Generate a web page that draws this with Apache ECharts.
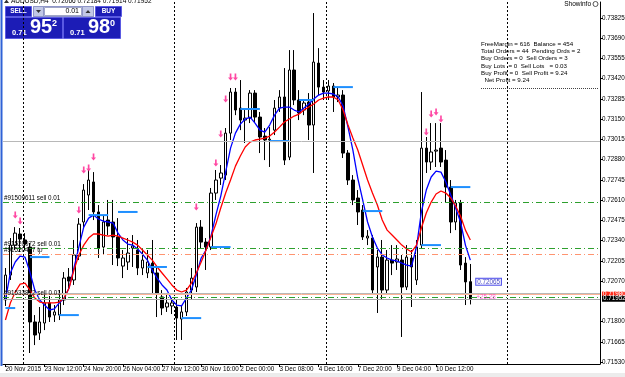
<!DOCTYPE html>
<html>
<head>
<meta charset="utf-8">
<title>AUDUSD,H4</title>
<script src="https://cdn.jsdelivr.net/npm/echarts@6/dist/echarts.min.js"></script>
<style>
html, body { margin: 0; padding: 0; background: #fff; }
#chart { width: 625px; height: 377px; }
</style>
</head>
<body>
<div id="chart"></div>
<script>
// ==============================================================
// AUDUSD H4
// ==============================================================
var FONT = 'Liberation Sans, Arial, sans-serif';
var MONTHS = ['Jan', 'Feb', 'Mar', 'Apr', 'May', 'Jun', 'Jul', 'Aug', 'Sep', 'Oct', 'Nov', 'Dec'];

var X_TICK_LABELS = ['20 Nov 2015', '23 Nov 12:00', '24 Nov 20:00', '26 Nov 04:00', '27 Nov 12:00',
    '30 Nov 16:00', '2 Dec 00:00', '3 Dec 08:00', '4 Dec 16:00', '7 Dec 20:00', '9 Dec 04:00', '10 Dec 12:00'];
var Y_TICKS = [0.73825, 0.73690, 0.73555, 0.73420, 0.73285, 0.73150, 0.73015, 0.72880, 0.72745,
    0.72610, 0.72475, 0.72340, 0.72205, 0.72070, 0.71800, 0.71665, 0.71530];
var Y_MIN = 0.715167, Y_MAX = 0.739317;

// open, close, low, high
var CANDLES = [
    [0.71944, 0.72110, 0.71904, 0.72157], [0.72110, 0.72310, 0.72077, 0.72357],
    [0.72310, 0.72390, 0.72277, 0.72430], [0.72384, 0.72350, 0.72264, 0.72424],
    [0.72344, 0.72317, 0.72277, 0.72390], [0.72297, 0.71797, 0.71590, 0.72324],
    [0.71797, 0.71710, 0.71643, 0.71843], [0.71723, 0.71797, 0.71677, 0.71897],
    [0.71790, 0.71924, 0.71743, 0.71977], [0.71924, 0.71830, 0.71797, 0.71970],
    [0.71843, 0.71864, 0.71797, 0.71910], [0.71843, 0.71944, 0.71810, 0.72010],
    [0.71944, 0.72090, 0.71910, 0.72130], [0.72097, 0.72070, 0.72010, 0.72157],
    [0.72077, 0.72244, 0.72044, 0.72344], [0.72237, 0.72450, 0.72210, 0.72490],
    [0.72464, 0.72677, 0.72424, 0.72717], [0.72644, 0.72744, 0.72544, 0.72811],
    [0.72731, 0.72531, 0.72477, 0.72797], [0.72531, 0.72290, 0.72224, 0.72577],
    [0.72297, 0.72464, 0.72244, 0.72510], [0.72477, 0.72437, 0.72377, 0.72611],
    [0.72464, 0.72364, 0.72177, 0.72611], [0.72364, 0.72224, 0.72170, 0.72490],
    [0.72170, 0.72224, 0.72090, 0.72277], [0.72197, 0.72257, 0.72144, 0.72357],
    [0.72290, 0.72304, 0.72164, 0.72377], [0.72277, 0.72157, 0.72110, 0.72344],
    [0.72157, 0.72210, 0.72110, 0.72290], [0.72124, 0.72197, 0.72090, 0.72277],
    [0.72190, 0.72124, 0.71990, 0.72344], [0.72124, 0.71990, 0.71830, 0.72157],
    [0.71964, 0.71890, 0.71843, 0.72010], [0.71897, 0.71924, 0.71864, 0.71977],
    [0.71904, 0.71924, 0.71850, 0.71957], [0.71897, 0.71823, 0.71677, 0.71944],
    [0.71817, 0.71864, 0.71677, 0.71910], [0.71864, 0.71997, 0.71837, 0.72024],
    [0.72010, 0.72090, 0.71944, 0.72157], [0.72030, 0.72430, 0.71997, 0.72457],
    [0.72430, 0.72330, 0.72290, 0.72477], [0.72330, 0.72297, 0.72144, 0.72357],
    [0.72297, 0.72657, 0.72277, 0.72691], [0.72657, 0.72744, 0.72611, 0.72811],
    [0.72757, 0.72791, 0.72711, 0.72844], [0.72777, 0.73057, 0.72744, 0.73091],
    [0.73057, 0.73331, 0.73011, 0.73358], [0.73331, 0.73211, 0.73177, 0.73358],
    [0.73224, 0.73144, 0.73077, 0.73411], [0.73144, 0.73157, 0.72991, 0.73211],
    [0.73157, 0.73324, 0.73124, 0.73344], [0.73324, 0.73164, 0.73131, 0.73344],
    [0.73164, 0.73031, 0.72924, 0.73198], [0.73037, 0.73011, 0.72877, 0.73091],
    [0.73011, 0.73017, 0.72831, 0.73097], [0.73077, 0.73224, 0.73044, 0.73278],
    [0.73224, 0.73298, 0.73198, 0.73344], [0.73298, 0.72877, 0.72844, 0.73491],
    [0.72897, 0.73478, 0.72877, 0.73611], [0.73478, 0.73278, 0.73244, 0.73611],
    [0.73278, 0.73191, 0.73144, 0.73344], [0.73211, 0.73258, 0.73177, 0.73278],
    [0.73264, 0.73111, 0.73011, 0.73324], [0.73111, 0.73531, 0.72791, 0.73858],
    [0.73524, 0.73364, 0.73311, 0.73624], [0.73364, 0.73331, 0.73278, 0.73411],
    [0.73338, 0.73371, 0.73278, 0.73411], [0.73371, 0.73298, 0.73198, 0.73391],
    [0.73298, 0.73311, 0.73264, 0.73358], [0.73311, 0.72924, 0.72891, 0.73344],
    [0.72924, 0.72744, 0.72711, 0.72944], [0.72744, 0.72611, 0.72577, 0.72777],
    [0.72624, 0.72531, 0.72444, 0.72677], [0.72544, 0.72364, 0.72344, 0.72577],
    [0.72357, 0.72370, 0.72310, 0.72410], [0.72357, 0.72010, 0.71990, 0.72377],
    [0.72164, 0.72230, 0.71857, 0.72277], [0.72230, 0.72010, 0.71944, 0.72344],
    [0.72010, 0.72210, 0.71977, 0.72277], [0.72210, 0.72190, 0.72110, 0.72310],
    [0.72197, 0.72217, 0.72144, 0.72310], [0.72210, 0.72030, 0.71697, 0.72244],
    [0.72030, 0.72230, 0.72010, 0.72310], [0.72224, 0.72164, 0.71897, 0.72277],
    [0.72077, 0.72297, 0.72044, 0.72344], [0.72310, 0.72957, 0.72290, 0.73331],
    [0.72957, 0.72864, 0.72791, 0.73031], [0.72864, 0.72931, 0.72811, 0.73124],
    [0.72937, 0.72944, 0.72831, 0.73124], [0.72957, 0.72864, 0.72831, 0.73124],
    [0.72877, 0.72697, 0.72591, 0.72944], [0.72697, 0.72464, 0.72390, 0.72744],
    [0.72464, 0.72591, 0.72410, 0.72611], [0.72591, 0.72177, 0.72144, 0.72611],
    [0.72190, 0.72064, 0.71910, 0.72230], [0.72066, 0.71952, 0.71914, 0.72184]
];

// blue (fast) and red (slow) moving averages, one value per bar
var MA_FAST = [
    0.71944, 0.72124, 0.72197, 0.72237, 0.72230, 0.72130, 0.72010, 0.71944, 0.71910, 0.71877,
    0.71884, 0.71924, 0.71957, 0.72024, 0.72157, 0.72297, 0.72430, 0.72490, 0.72510, 0.72484,
    0.72470, 0.72464, 0.72457, 0.72390, 0.72344, 0.72317, 0.72310, 0.72284, 0.72250, 0.72210,
    0.72144, 0.72090, 0.72044, 0.72010, 0.71944, 0.71910, 0.71904, 0.71957, 0.72010, 0.72110,
    0.72224, 0.72277, 0.72370, 0.72510, 0.72637, 0.72797, 0.72957, 0.73057, 0.73117, 0.73151,
    0.73164, 0.73124, 0.73077, 0.73064, 0.73111, 0.73177, 0.73224, 0.73231, 0.73231, 0.73211,
    0.73198, 0.73224, 0.73251, 0.73284, 0.73311, 0.73324, 0.73324, 0.73318, 0.73298, 0.73238,
    0.73097, 0.72944, 0.72757, 0.72611, 0.72464, 0.72364, 0.72290, 0.72244, 0.72224, 0.72210,
    0.72204, 0.72190, 0.72177, 0.72170, 0.72297, 0.72531, 0.72677, 0.72764, 0.72804, 0.72797,
    0.72731, 0.72644, 0.72557, 0.72464, 0.72310, 0.72210
];
var MA_SLOW = [
    0.71810, 0.71924, 0.71997, 0.72050, 0.72057, 0.72010, 0.71957, 0.71930, 0.71924, 0.71924,
    0.71924, 0.71930, 0.71957, 0.72024, 0.72144, 0.72244, 0.72310, 0.72357, 0.72384, 0.72384,
    0.72377, 0.72370, 0.72377, 0.72370, 0.72357, 0.72344, 0.72330, 0.72310, 0.72277, 0.72244,
    0.72210, 0.72164, 0.72124, 0.72084, 0.72044, 0.72010, 0.71997, 0.72010, 0.72057, 0.72124,
    0.72197, 0.72277, 0.72364, 0.72450, 0.72557, 0.72657, 0.72744, 0.72837, 0.72904, 0.72964,
    0.72997, 0.73011, 0.73017, 0.73024, 0.73037, 0.73064, 0.73097, 0.73131, 0.73151, 0.73171,
    0.73184, 0.73211, 0.73231, 0.73251, 0.73278, 0.73291, 0.73298, 0.73298, 0.73278, 0.73211,
    0.73111, 0.73024, 0.72944, 0.72844, 0.72744, 0.72657, 0.72577, 0.72477, 0.72410, 0.72377,
    0.72344, 0.72310, 0.72284, 0.72264, 0.72310, 0.72424, 0.72524, 0.72597, 0.72651, 0.72671,
    0.72657, 0.72624, 0.72571, 0.72504, 0.72410, 0.72344
];

// pink sell arrows [bar, price]
var SIGNAL_ARROWS = [[2, 0.72510], [3, 0.72470], [15, 0.72544], [16, 0.72811], [17, 0.72824], [18, 0.72897],
    [39, 0.72564], [43, 0.72857], [44, 0.73051], [45, 0.73284], [46, 0.73431], [47, 0.73431],
    [86, 0.73064], [87, 0.73184], [88, 0.73198], [89, 0.73151]];

// short light-blue order marks [fromBar, toBar, price]
var ORDER_MARKS = [[0, 2, 0.71890], [5, 9, 0.72230], [11, 15, 0.71843], [17, 21, 0.72510], [23, 27, 0.72531],
    [29, 33, 0.72164], [36, 40, 0.71823], [42, 46, 0.72297], [48, 52, 0.73218], [54, 58, 0.73004],
    [60, 63, 0.73278], [67, 71, 0.73364], [73, 77, 0.72537], [85, 89, 0.72310], [91, 95, 0.72697]];

var SEPARATORS = [4, 35, 66, 103];

// trade levels [price, kind, text]
var ORDER_LEVELS = [
    [0.72597, 'open', '#91509611 sell 0.01'],
    [0.72290, 'open', '#91520072 sell 0.01'],
    [0.72250, 'tp', '#91520497 tp'],
    [0.71962, 'open', '#91533812 sell 0.01']
];
var GRAY_LEVELS = [0.73000, 0.71992];
var ASK = 0.71980, BID = 0.71952;

var TRADE_NOTES = [[96, 0.72065, '0.72065'], [96, 0.71964, '+25.28']];

var INFO_LINES = ['FreeMargin = 616  Balance = 454', 'Total Orders = 44  Pending Ords = 2',
    'Buy Orders = 0  Sell Orders = 3', 'Buy Lots  = 0  Sell Lots   = 0.03',
    'Buy Profit = 0  Sell Profit = 9.24', '  Net Profit = 9.24'];

// H4 bar times: Mon-Fri plus the short Sunday bar
var categories = [];
var t = Date.UTC(2015, 10, 20, 8);
while (categories.length < 122) {
    var d = new Date(t);
    var wd = d.getUTCDay(), hh = d.getUTCHours();
    if ((wd >= 1 && wd <= 5) || (wd === 0 && hh === 20)) {
        categories.push(d.getUTCDate() + ' ' + MONTHS[d.getUTCMonth()] + ' ' + (hh < 10 ? '0' : '') + hh + ':00');
    }
    t += 4 * 3600 * 1000;
}

function isLabelBar(i) {
    return i % 8 === 0 && i / 8 < X_TICK_LABELS.length;
}

// ==============================================================
// level lines on the candle series
// ==============================================================
var levelLines = [];
GRAY_LEVELS.forEach(function (v) {
    levelLines.push({ yAxis: v, lineStyle: { color: '#b8b8b8', type: 'solid', width: 1 }, label: { show: false } });
});
ORDER_LEVELS.forEach(function (l) {
    levelLines.push({
        yAxis: l[0],
        lineStyle: { color: l[1] === 'tp' ? '#ff9470' : '#2ea02e', type: [6, 3, 1, 3], width: 1 },
        label: { show: true, position: 'insideStartTop', formatter: l[2], color: '#000', fontSize: 6.3, fontFamily: FONT, distance: 1 }
    });
});
levelLines.push({
    yAxis: ASK, lineStyle: { color: '#ffb496', type: 'solid', width: 1 },
    label: { show: true, position: 'end', formatter: ASK.toFixed(5), color: '#fff', backgroundColor: '#ff2a1a',
        padding: [0, 1], fontSize: 6.3, fontFamily: FONT, distance: 2 }
});
levelLines.push({
    yAxis: BID, lineStyle: { color: '#a8a8a8', type: 'solid', width: 1 },
    label: { show: true, position: 'end', formatter: BID.toFixed(5), color: '#fff', backgroundColor: '#000',
        padding: [0, 1], fontSize: 6.3, fontFamily: FONT, distance: 2 }
});

// ==============================================================
// one-click panel, header and info block (terminal decorations)
// ==============================================================
var PANEL = '#1c1cb6', PANEL_EDGE = '#5a5ae2';
function txt(x, y, s, size, opts) {
    opts = opts || {};
    return {
        type: 'text', x: x, y: y, silent: true,
        style: {
            text: s, fill: opts.fill || '#000', align: opts.align || 'left', verticalAlign: opts.va || 'middle',
            font: (opts.bold ? 'bold ' : '') + size + 'px ' + FONT
        }
    };
}
function box(x, y, w, h, fill, stroke) {
    return { type: 'rect', silent: true, shape: { x: x, y: y, width: w, height: h }, style: { fill: fill, stroke: stroke || null, lineWidth: 1 } };
}

var graphics = [
    box(0, 373, 625, 4, '#ececec'),
    { type: 'line', silent: true, shape: { x1: 1.5, y1: 0, x2: 1.5, y2: 366 }, style: { stroke: '#2f62d6', lineWidth: 2 } },
    { type: 'polygon', silent: true, shape: { points: [[4, 3], [6.5, -0.5], [9, 3]] }, style: { fill: '#333' } },
    txt(11, 1, 'AUDUSD,H4  0.72066 0.72184 0.71914 0.71952', 6.5),
    // sell / lot / buy row
    box(5.5, 6.5, 26, 10, PANEL, PANEL_EDGE), txt(18.5, 11.5, 'SELL', 6.5, { fill: '#fff', align: 'center', bold: true }),
    box(33.5, 6.5, 60, 10, '#d6daf0', '#8f96c8'),
    box(33.5, 6.5, 10, 10, '#c2c8e6', '#8f96c8'),
    { type: 'polygon', silent: true, shape: { points: [[36, 10], [41, 10], [38.5, 13]] }, style: { fill: '#333' } },
    box(44.5, 7.5, 37, 8, '#fff', '#a0a6c8'), txt(79, 11.5, '0.01', 7, { align: 'right' }),
    box(82.5, 6.5, 11, 10, '#c2c8e6', '#8f96c8'),
    { type: 'polygon', silent: true, shape: { points: [[85.5, 13], [90.5, 13], [88, 10]] }, style: { fill: '#333' } },
    box(95.5, 6.5, 26, 10, PANEL, PANEL_EDGE), txt(108.5, 11.5, 'BUY', 6.5, { fill: '#fff', align: 'center', bold: true }),
    // big price boxes
    box(5.5, 17.5, 57, 21, PANEL, PANEL_EDGE), box(63.5, 17.5, 57, 21, PANEL, PANEL_EDGE),
    txt(12, 33, '0.71', 7.5, { fill: '#fff', bold: true }),
    txt(30, 37.5, '95', 20, { fill: '#fff', bold: true, va: 'bottom' }),
    txt(52, 19, '2', 9, { fill: '#fff', bold: true, va: 'top' }),
    txt(70, 33, '0.71', 7.5, { fill: '#fff', bold: true }),
    txt(88, 37.5, '98', 20, { fill: '#fff', bold: true, va: 'bottom' }),
    txt(110, 19, '0', 9, { fill: '#fff', bold: true, va: 'top' }),
    // show info toggle
    txt(591, 4, 'Showinfo', 6.5, { align: 'right' }),
    { type: 'circle', silent: true, shape: { cx: 595.5, cy: 4, r: 2.5 }, style: { fill: '#fff', stroke: '#555', lineWidth: 1 } },
    { type: 'line', silent: true, shape: { x1: 481, y1: 88.5, x2: 598, y2: 88.5 }, style: { stroke: '#444', lineDash: [1, 1], lineWidth: 1 } }
];
var INFO_Y = [44, 51, 58.5, 66, 73, 80];
INFO_LINES.forEach(function (s, i) {
    graphics.push(txt(481, INFO_Y[i], s, 6.2));
});

// ==============================================================
// chart
// ==============================================================
var chart = echarts.init(document.getElementById('chart'));
var option = {
    animation: false,
    backgroundColor: '#fff',
    grid: { left: 3, right: 25, top: 2, bottom: 13, containLabel: false, outerBoundsMode: 'none' },
    xAxis: {
        type: 'category',
        data: categories,
        boundaryGap: true,
        axisLine: { show: true, lineStyle: { color: '#000', width: 1 } },
        axisTick: { show: true, alignWithLabel: true, length: 3, interval: isLabelBar, lineStyle: { color: '#000' } },
        axisLabel: {
            interval: isLabelBar,
            formatter: function (v, i) { return X_TICK_LABELS[i / 8]; },
            align: 'left', margin: 2, color: '#000', fontSize: 6.3, fontFamily: FONT
        },
        splitLine: { show: false }
    },
    yAxis: {
        type: 'value',
        position: 'right',
        min: Y_MIN,
        max: Y_MAX,
        scale: true,
        splitLine: { show: false },
        axisLine: { show: true, lineStyle: { color: '#000', width: 1 } },
        axisTick: { show: true, length: 3, customValues: Y_TICKS, lineStyle: { color: '#000' } },
        axisLabel: {
            customValues: Y_TICKS,
            formatter: function (v) { return v.toFixed(5); },
            margin: 2, color: '#000', fontSize: 6.3, fontFamily: FONT
        }
    },
    graphic: graphics,
    series: [
        {
            type: 'custom',
            z: 1,
            silent: true,
            data: SEPARATORS.map(function (i) { return [i, Y_MIN]; }),
            encode: { x: 0, y: 1 },
            renderItem: function (params, api) {
                var cs = params.coordSys;
                var x = Math.round(api.coord([api.value(0), Y_MIN])[0] - api.size([1, 0])[0] / 2) + 0.5;
                return {
                    type: 'line',
                    shape: { x1: x, y1: cs.y, x2: x, y2: cs.y + cs.height },
                    style: { stroke: '#000', lineDash: [2, 2], lineWidth: 1 }
                };
            }
        },
        {
            type: 'candlestick',
            z: 2,
            data: CANDLES,
            barWidth: 3,
            itemStyle: { color: '#fff', color0: '#000', borderColor: '#000', borderColor0: '#000', borderWidth: 1 },
            markLine: { symbol: ['none', 'none'], silent: true, animation: false, precision: 5, data: levelLines }
        },
        {
            type: 'line', z: 3, data: MA_FAST, showSymbol: false, silent: true,
            lineStyle: { color: '#0000ff', width: 1.3 }
        },
        {
            type: 'line', z: 3, data: MA_SLOW, showSymbol: false, silent: true,
            lineStyle: { color: '#ff0000', width: 1.3 }
        },
        {
            type: 'custom',
            z: 4,
            silent: true,
            data: ORDER_MARKS,
            encode: { x: [0, 1], y: 2 },
            renderItem: function (params, api) {
                var a = api.coord([api.value(0), api.value(2)]);
                var b = api.coord([api.value(1), api.value(2)]);
                return {
                    type: 'line',
                    shape: { x1: a[0], y1: a[1], x2: b[0], y2: b[1] },
                    style: { stroke: '#1e8fff', lineWidth: 2 }
                };
            }
        },
        {
            type: 'scatter',
            z: 5,
            silent: true,
            data: SIGNAL_ARROWS,
            symbol: 'path://M2,0 L4,0 L4,5 L6,5 L3,9 L0,5 L2,5 Z',
            symbolSize: [5, 7],
            itemStyle: { color: '#ff1a8c' }
        },
        {
            type: 'scatter',
            z: 5,
            silent: true,
            symbolSize: 0,
            data: TRADE_NOTES.map(function (n, i) {
                return {
                    value: [n[0], n[1]],
                    label: i === 0
                        ? { formatter: n[2], color: '#1414b4', borderColor: '#2a2ae6', borderWidth: 1, backgroundColor: '#fff', padding: [0, 1] }
                        : { formatter: n[2], color: '#ff33cc' }
                };
            }),
            label: { show: true, position: 'right', distance: 1, fontSize: 6.3, fontFamily: FONT }
        }
    ]
};
chart.setOption(option);
</script>
</body>
</html>
